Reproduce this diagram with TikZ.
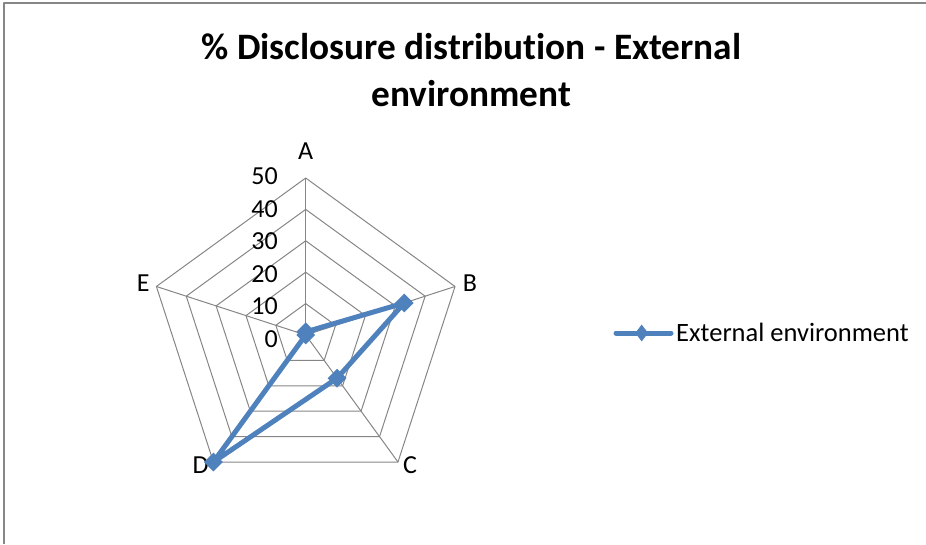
\documentclass[tikz,border=0pt]{standalone}
\usepackage{fontspec}
\setmainfont{Carlito}[Ligatures=NoCommon]
\usetikzlibrary{shapes.geometric}
\definecolor{serieblue}{HTML}{4F81BD}
\definecolor{gridgray}{HTML}{868686}

\begin{document}
\begin{tikzpicture}[x=1pt,y=1pt,line join=round,
		grid/.style={draw=gridgray,line width=1pt},
		serie/.style={draw=serieblue,line width=5pt},
		mk/.style={diamond,fill=serieblue,inner sep=0pt,minimum size=19pt},
		lbl/.style={font=\fontsize{26}{26}\selectfont,inner sep=0pt,anchor=base}]
		\def\R{157} % rayon du 50
		\useasboundingbox (-305.7,-209) rectangle (620.3,335);
		\draw[gridgray,line width=1.2pt] (-301.7,-209)--(-301.7,332)--(620.3,332);
		% titre
		\node[font=\bfseries\fontsize{37.3}{47}\selectfont,align=center,inner sep=0pt,anchor=north] (titre) at (165.8,301.7)
			{\% Disclosure distribution - External\\environment};
		% grille
		\coordinate (O) at (0,0);
		\foreach \k in {1,...,5}{
			\pgfmathsetmacro\r{\k*\R/5}
			\draw[grid] (90:\r)--(18:\r)--(-54:\r)--(-126:\r)--(162:\r)--cycle;
		}
		\foreach \a/\n in {90/A,18/B,-54/C,-126/D,162/E}{
			\coordinate (\n) at (\a:\R);
			\draw[grid] (O)--(\n);
		}
		\foreach \v in {0,10,...,50}
			\node[lbl,anchor=base east] (v\v) at (-27.7,\v*3.24-12) {\v};
		\node[lbl] (lA) at (0,175) {A};
		\node[lbl] (lB) at (164.3,44) {B};
		\node[lbl] (lC) at (104.3,-138) {C};
		\node[lbl] (lD) at (-105,-138) {D};
		\node[lbl] (lE) at (-162.4,44) {E};
		% serie
		\foreach \a/\n/\val in {90/A/1,18/B/33,-54/C/17,-126/D/50,162/E/0}
			\coordinate (p\n) at (\a:\val*\R/50);
		\draw[serie] (pA)--(pB)--(pC)--(pD)--(pE)--cycle;
		\foreach \n in {A,B,C,D,E}
			\node[mk] (m\n) at (p\n) {};
		% legende
		\coordinate (g1) at (310.3,2);
		\coordinate (g2) at (365.3,2);
		\draw[serie,line cap=round] (g1)--(g2);
		\node[mk,minimum width=13pt,minimum height=17pt] (mg) at (336,2) {};
		\node[lbl,anchor=base west,font=\fontsize{26.5}{26.5}\selectfont] (leg) at (370.3,-6.7) {External environment};
\end{tikzpicture}
\end{document}
